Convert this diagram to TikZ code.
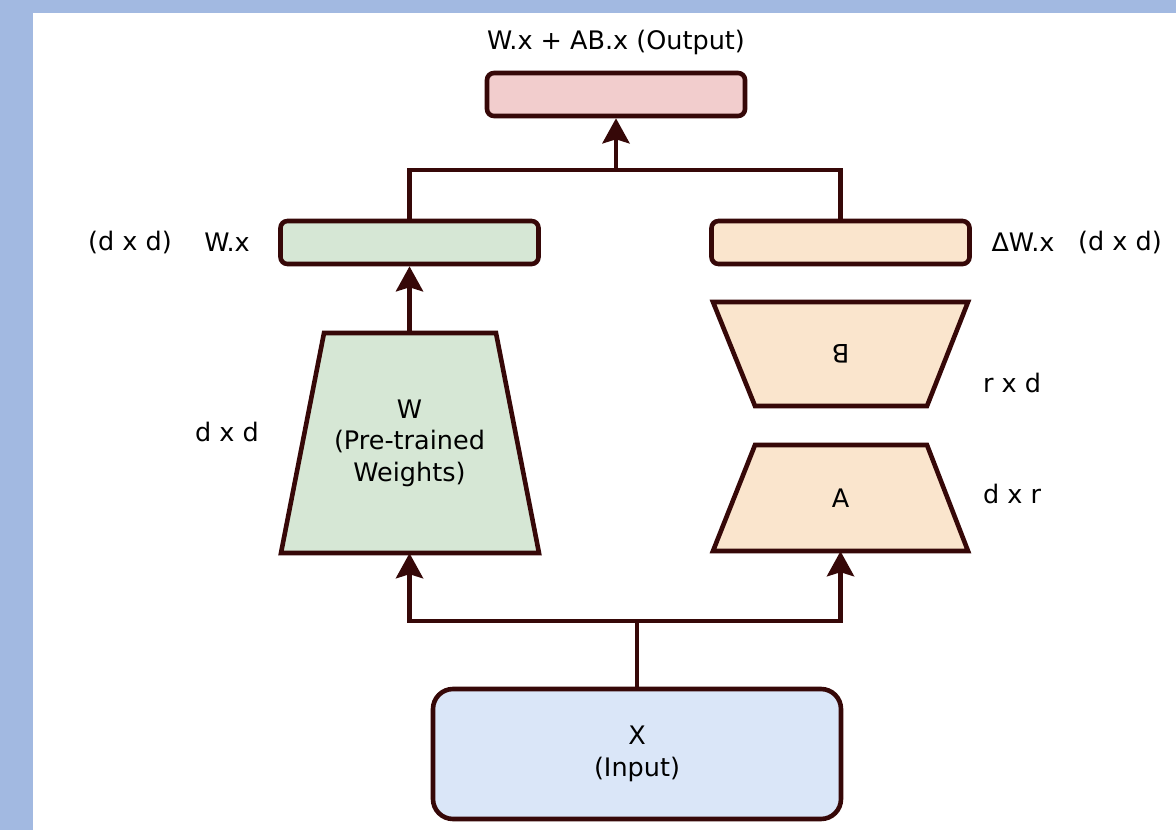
\documentclass[tikz,border=0pt]{standalone}
\usepackage{fontspec}
\setmainfont{DejaVu Sans}
\usetikzlibrary{arrows.meta}
\definecolor{edge}{HTML}{360808}
\definecolor{bandblue}{HTML}{A2B9E1}
\definecolor{outfill}{HTML}{F2CDCD}
\definecolor{greenfill}{HTML}{D6E7D5}
\definecolor{orangefill}{HTML}{FAE5CD}
\definecolor{bluefill}{HTML}{DAE6F8}
\tikzset{
  box/.style={draw=edge, line width=4.6pt, rounded corners=7pt, minimum width=258pt, minimum height=43pt, inner sep=0pt},
  trap/.style={draw=edge, line width=4.6pt, line join=miter},
  holder/.style={draw=none, inner sep=0pt, align=center},
  lbl/.style={inner sep=0pt},
  wire/.style={draw=edge, line width=4.6pt},
  arr/.style={wire, -{Stealth[length=25pt, width=27pt, inset=4pt]}},
}
\begin{document}
\begin{tikzpicture}[x=1pt, y=-1pt, font=\fontsize{25.5}{31.5}\selectfont]
\useasboundingbox (0,0) rectangle (1176,830);
\fill[bandblue] (0,0) rectangle (1176,830);
\fill[white] (33,13) rectangle (1176,830);

% trapezoid shapes
\filldraw[trap, fill=greenfill] (281,553) -- (539,553) -- (496,333) -- (324,333) -- cycle;
\filldraw[trap, fill=orangefill] (713,302) -- (968,302) -- (927,406) -- (755,406) -- cycle;
\filldraw[trap, fill=orangefill] (755,445) -- (927,445) -- (968,551) -- (713,551) -- cycle;

% nodes
\node[box, fill=outfill] (out) at (616,94.5) {};
\node[lbl] (outlbl) at (616,42) {W.x + AB.x (Output)};
\node[box, fill=greenfill] (wx) at (409.5,242.5) {};
\node[box, fill=orangefill] (dwx) at (840.5,242.5) {};
\node[holder, minimum width=258pt, minimum height=220pt] (W) at (409.5,443) {W\\(Pre-trained\\Weights)};
\node[holder, minimum width=255pt, minimum height=104pt, rotate=180] (B) at (840.5,354) {B};
\node[holder, minimum width=255pt, minimum height=106pt] (A) at (840.5,498) {A};
\node[box, fill=bluefill, rounded corners=20pt, minimum width=408pt, minimum height=130pt, align=center] (X) at (637,754) {X\\(Input)};

% labels
\node[lbl] (l1) at (130,242) {(d x d)};
\node[lbl] (l2) at (227,242) {W.x};
\node[lbl] (l3) at (1023,242) {ΔW.x};
\node[lbl] (l4) at (1120,242) {(d x d)};
\node[lbl] (l5) at (227,432) {d x d};
\node[lbl] (l6) at (1012,383) {r x d};
\node[lbl] (l7) at (1012,494) {d x r};

% connectors
\coordinate (merge) at (616,170);
\coordinate (split) at (637,621);
\draw[wire] (wx.north) |- (merge);
\draw[wire] (dwx.north) |- (merge);
\draw[arr] (merge) -- (out.south);
\draw[arr] (W.north) -- (wx.south);
\draw[wire] (X.north) -- (split);
\draw[arr] (split) -| (W.south);
\draw[arr] (split) -| (A.south);
\end{tikzpicture}
\end{document}
